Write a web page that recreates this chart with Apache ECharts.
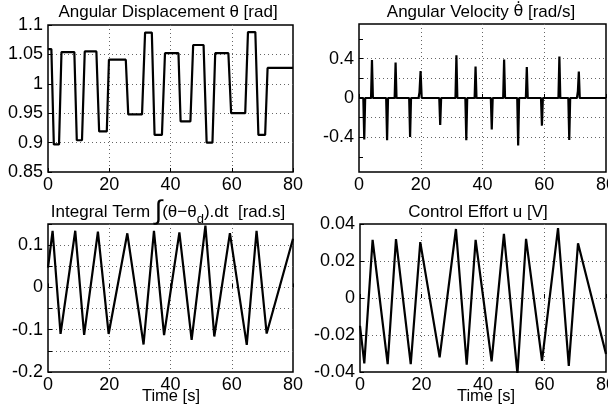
<!DOCTYPE html>
<html>
<head>
<meta charset="utf-8">
<script src="https://cdn.jsdelivr.net/npm/echarts@6/dist/echarts.min.js"></script>
<style>
  html, body { margin: 0; padding: 0; background: #fff; }
  #chart { width: 608px; height: 414px; }
</style>
</head>
<body>
<div id="chart"></div>
<script>
const FONT = '"Liberation Sans", Arial, Helvetica, sans-serif';

// Angular displacement θ [rad]: each plateau listed by its start and end time
const thetaTime = [0, 1.1, 1.9, 3.6, 4.4, 8.6, 9.4, 11.1, 12.0, 15.8, 16.7, 19.2, 19.9, 25.4,
  26.2, 30.7, 31.7, 33.9, 34.8, 37.2, 38.2, 42.6, 43.3, 46.5, 47.4, 50.8, 51.8, 53.7,
  54.6, 58.9, 59.8, 64.4, 65.3, 67.7, 68.7, 70.9, 71.7, 80];
const thetaValue = [1.059, 1.059, 0.897, 0.897, 1.054, 1.054, 0.904, 0.904, 1.055, 1.055, 0.919, 0.919, 1.041, 1.041,
  0.948, 0.948, 1.087, 1.087, 0.913, 0.913, 1.052, 1.052, 0.936, 0.936, 1.066, 1.066, 0.900, 0.900,
  1.052, 1.052, 0.950, 0.950, 1.088, 1.088, 0.913, 0.913, 1.027, 1.027];

// Angular velocity [rad/s]: flat at zero with a spike at every switch
const velTime = [0, 1.4, 1.7, 2.0, 3.9, 4.2, 4.5, 8.8, 9.1, 9.4, 11.55, 11.85, 12.15,
  16.25, 16.55, 16.85, 19.3, 19.6, 19.95, 20.3, 26.0, 26.3, 26.6, 31.25, 31.55, 31.85,
  34.45, 34.75, 35.05, 37.45, 37.75, 38.05, 42.7, 43.0, 43.3, 46.7, 47.0, 47.3,
  51.25, 51.55, 51.85, 54.05, 54.35, 54.65, 58.95, 59.25, 59.55, 64.6, 64.9, 65.2,
  67.8, 68.1, 68.4, 70.6, 70.9, 71.2, 71.5, 80];
const velValue = [0, 0, -0.42, 0, 0, 0.386, 0, 0, -0.428, 0, 0, 0.359, 0,
  0, -0.394, 0, 0, 0.06, 0.273, 0, 0, -0.274, 0, 0, 0.434, 0,
  0, -0.428, 0, 0, 0.318, 0, 0, -0.32, 0, 0, 0.39, 0,
  0, -0.48, 0, 0, 0.315, 0, 0, -0.28, 0, 0, 0.42, 0,
  0, -0.425, 0, 0, 0.07, 0.267, 0, 0];

// Integral term [rad.s]: vertices of the saw-tooth
const intTime = [0, 1.5, 4.1, 8.9, 11.8, 16.3, 19.8, 25.9, 31.2, 34.6, 37.9, 42.9, 46.9, 51.4, 54.3, 59.4, 64.9, 68.1, 71.4, 80];
const intValue = [0.047, 0.134, -0.110, 0.134, -0.112, 0.132, -0.110, 0.128, -0.135, 0.134, -0.113, 0.130, -0.124, 0.146, -0.116, 0.1285, -0.136, 0.134, -0.109, 0.115];

// Control effort u [V]: vertices of the saw-tooth
const ctlTime = [0, 1.4, 4.1, 9.0, 11.7, 16.5, 19.6, 25.9, 31.2, 34.7, 37.6, 42.8, 46.8, 51.2, 54.0, 59.2, 64.4, 67.9, 70.9, 80];
const ctlValue = [-0.015, -0.0354, 0.0314, -0.0358, 0.0318, -0.0358, 0.0302, -0.0321, 0.0373, -0.0361, 0.0314, -0.0343, 0.0347, -0.041, 0.032, -0.034, 0.0378, -0.0367, 0.0296, -0.0303];

// Axis ticks
const timeTicks = { min: 0, max: 80, interval: 20 };
const thetaAxis = { min: 0.85, max: 1.1, interval: 0.05 };
const velAxis = { min: -0.75, max: 0.75, labels: [-0.4, 0, 0.4], grid: [-0.6, -0.4, -0.2, 0, 0.2, 0.4, 0.6] };
const intAxis = { min: -0.2, max: 0.15, interval: 0.05, labels: [-0.2, -0.1, 0, 0.1] };
const ctlAxis = { min: -0.04, max: 0.04, interval: 0.02 };

const titles = [
  'Angular Displacement θ [rad]',
  '{t|Angular Velocity }{g|θ\u0307}{t| [rad/s]}',
  '{t|Integral Term }{i|∫}{t|(θ−θ}{s|d}{t|).dt  [rad.s]}',
  'Control Effort u [V]'
];
const xLabel = 'Time [s]';

const zip = (a, b) => a.map((v, i) => [v, b[i]]);

const grids = [
  { left: 48, top: 25, width: 245, height: 147 },
  { left: 359, top: 24, width: 247, height: 148 },
  { left: 48, top: 224, width: 245, height: 148 },
  { left: 360, top: 224, width: 246, height: 148 }
].map(g => Object.assign({
  show: true, borderColor: '#000', borderWidth: 1.5, backgroundColor: 'transparent',
  containLabel: false, outerBoundsMode: 'none'
}, g));

const splitLine = {
  show: true, showMinLine: false, showMaxLine: false,
  lineStyle: { color: '#666', width: 1, type: [1, 3] }
};
const tick = { show: true, inside: true, length: 4, lineStyle: { color: '#000', width: 1 } };
const labelStyle = { color: '#000', fontFamily: FONT, fontSize: 18 };

const xAxes = [0, 1, 2, 3].map(i => ({
  type: 'value', gridIndex: i,
  min: timeTicks.min, max: timeTicks.max, interval: timeTicks.interval,
  axisLine: { show: false }, axisTick: tick, splitLine,
  axisLabel: Object.assign({ margin: 4, hideOverlap: false }, labelStyle)
}));

const yBase = i => ({
  type: 'value', gridIndex: i,
  axisLine: { show: false }, axisTick: tick, splitLine,
  axisLabel: Object.assign({ margin: 5 }, labelStyle)
});
const yAxes = [
  Object.assign(yBase(0), { min: thetaAxis.min, max: thetaAxis.max, interval: thetaAxis.interval }),
  Object.assign(yBase(1), {
    min: velAxis.min, max: velAxis.max,
    axisTick: Object.assign({ customValues: velAxis.grid }, tick),
    axisLabel: Object.assign({ margin: 5, customValues: velAxis.labels }, labelStyle)
  }),
  Object.assign(yBase(2), {
    min: intAxis.min, max: intAxis.max, interval: intAxis.interval,
    axisLabel: Object.assign({ margin: 5, customValues: intAxis.labels }, labelStyle)
  }),
  Object.assign(yBase(3), { min: ctlAxis.min, max: ctlAxis.max, interval: ctlAxis.interval })
];

const lineSeries = (i, data) => ({
  type: 'line', xAxisIndex: i, yAxisIndex: i, data,
  showSymbol: false, clip: true, silent: true,
  lineStyle: { color: '#000', width: 2.2 }
});

const textStyle = { fill: '#000', fontFamily: FONT, fontSize: 17, align: 'center', verticalAlign: 'middle' };
const titleText = (x, y, text, rich, size) => ({
  type: 'text', x, y, silent: true,
  style: Object.assign({}, textStyle, { text }, rich ? { rich } : {}, size ? { fontSize: size } : {})
});

const chart = echarts.init(document.getElementById('chart'), null, { renderer: 'canvas' });
chart.setOption({
  animation: false,
  backgroundColor: '#fff',
  grid: grids,
  xAxis: xAxes,
  yAxis: yAxes,
  series: [
    lineSeries(0, zip(thetaTime, thetaValue)),
    lineSeries(1, zip(velTime, velValue)),
    lineSeries(2, zip(intTime, intValue)),
    lineSeries(3, zip(ctlTime, ctlValue))
  ],
  graphic: [
    titleText(168, 12, titles[0]),
    titleText(481, 12, titles[1], {
      t: { fontFamily: FONT, fontSize: 17, fill: '#000' },
      g: { fontFamily: '"DejaVu Sans"', fontSize: 16, fill: '#000' }
    }),
    titleText(168, 212, titles[2], {
      t: { fontFamily: FONT, fontSize: 17, fill: '#000' },
      i: { fontFamily: FONT, fontSize: 27, fill: '#000' },
      s: { fontFamily: FONT, fontSize: 13, fill: '#000', verticalAlign: 'bottom' }
    }),
    titleText(478, 212, titles[3]),
    titleText(171, 396, xLabel, null, 16.5),
    titleText(486, 396, xLabel, null, 16.5)
  ]
});
</script>
</body>
</html>
